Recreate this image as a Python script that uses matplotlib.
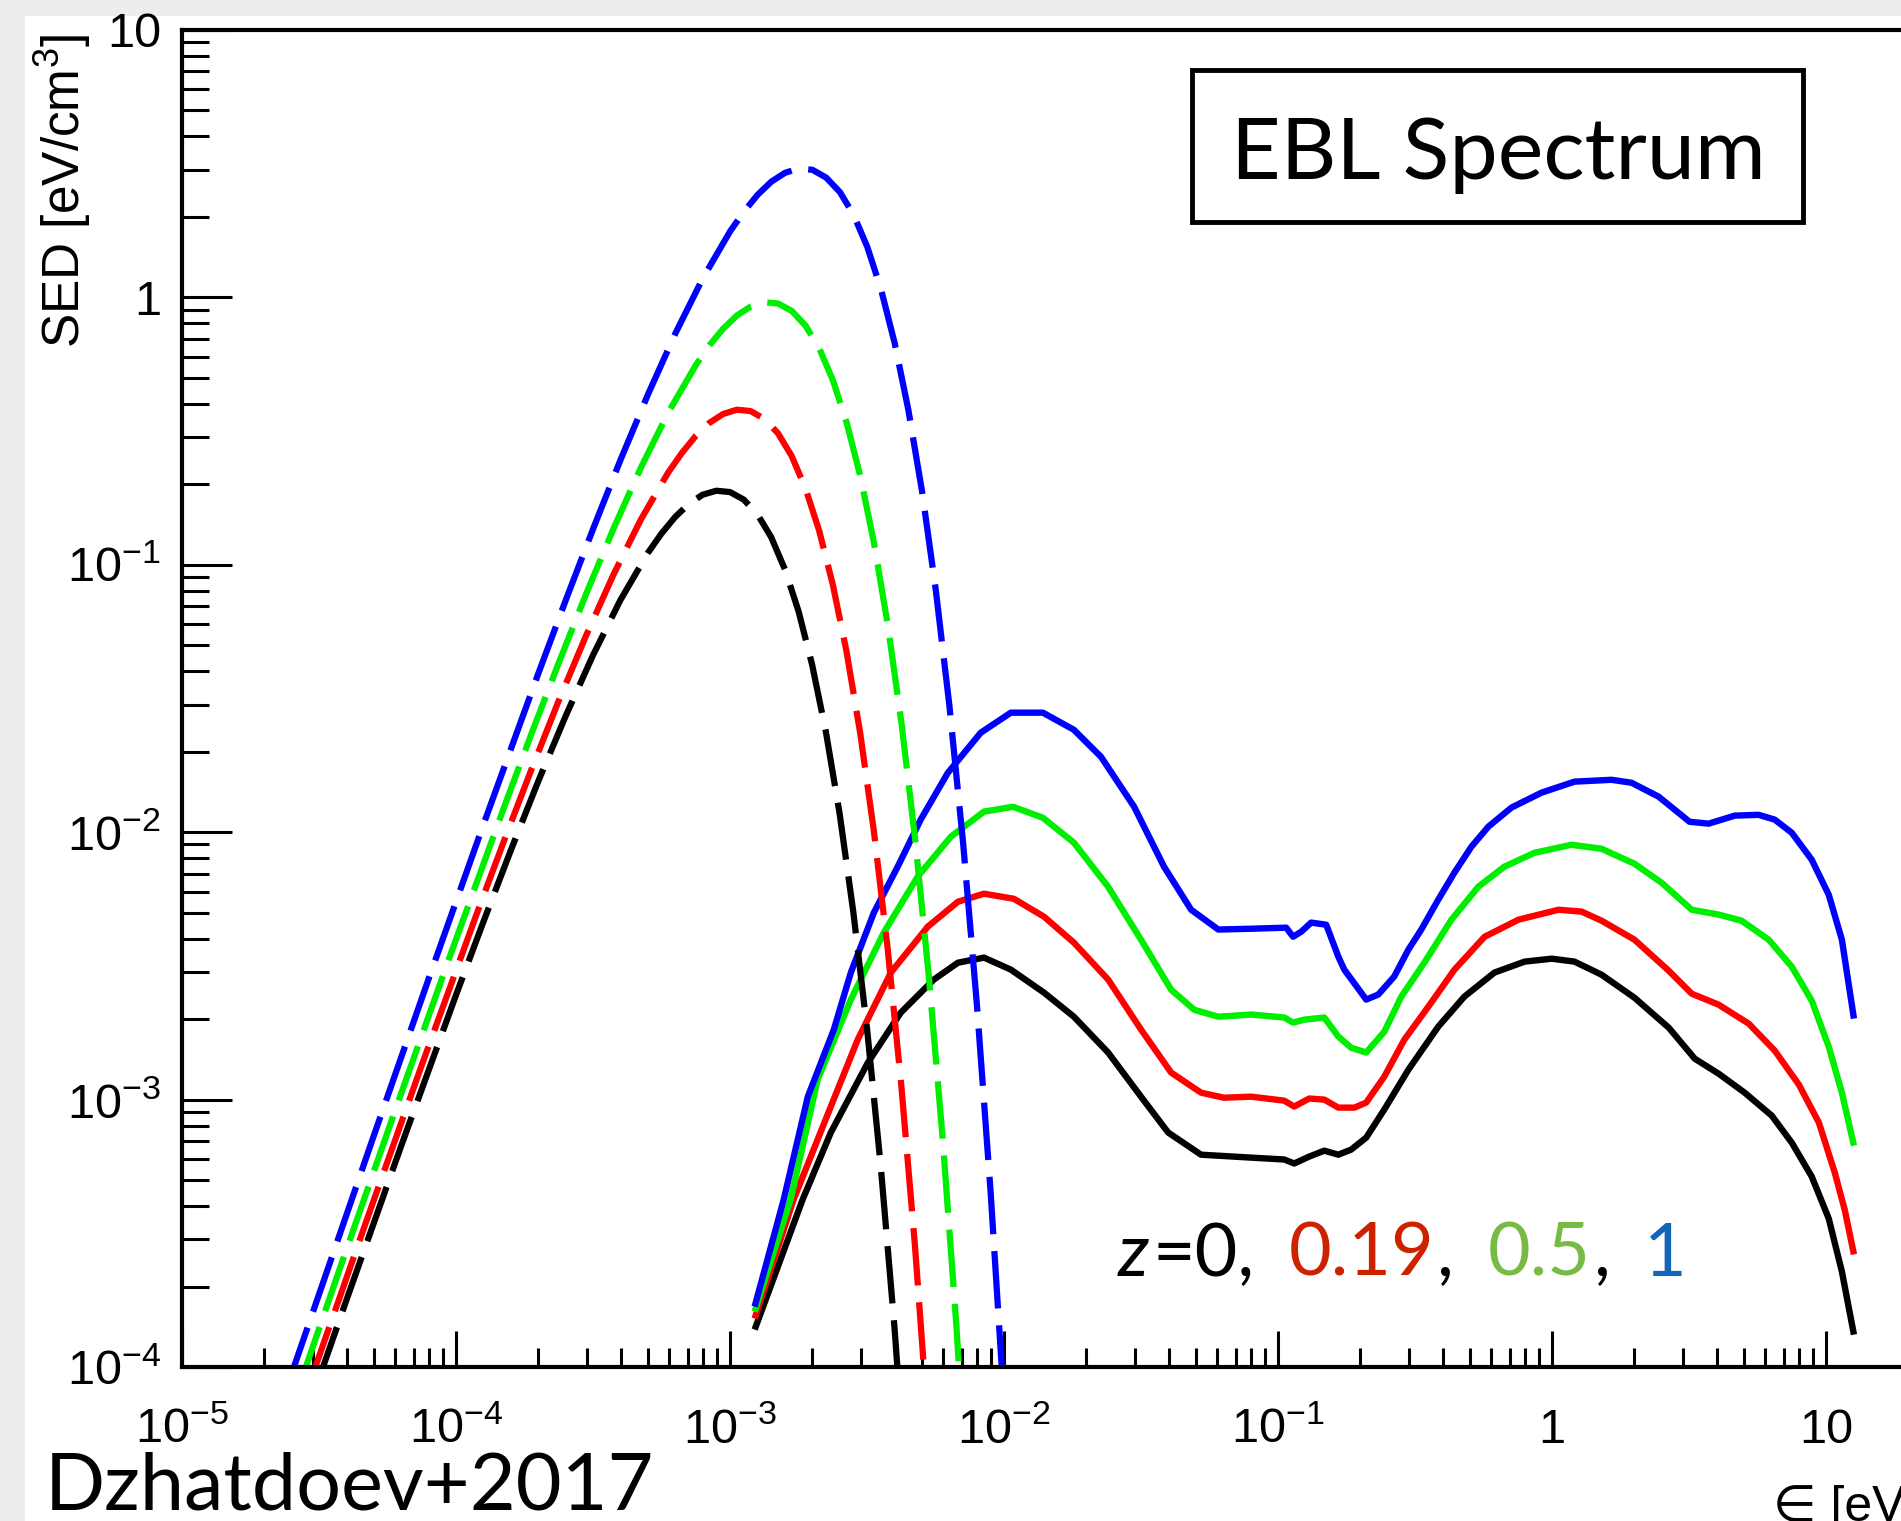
import numpy as np
import matplotlib.pyplot as plt
from matplotlib.patches import Rectangle
from matplotlib.ticker import LogLocator, NullFormatter

plt.rcParams['font.family'] = ['Liberation Sans', 'DejaVu Sans']
plt.rcParams['mathtext.fontset'] = 'custom'
plt.rcParams['mathtext.rm'] = 'Liberation Sans'
plt.rcParams['mathtext.it'] = 'Liberation Sans:italic'
plt.rcParams['mathtext.bf'] = 'Liberation Sans:bold'

# CMB (dashed) curves: log10 energy [eV] and log10 SED [eV/cm^3]
cmb_logE_z0 = [-5.0, -4.6, -4.4, -4.2, -4.0, -3.9, -3.8, -3.7, -3.6, -3.5, -3.4, -3.3, -3.25, -3.2, -3.15,
               -3.1, -3.05, -3.0, -2.95, -2.9, -2.85, -2.8, -2.75, -2.7, -2.65, -2.6, -2.55, -2.5, -2.45,
               -2.4, -2.35, -2.3]
cmb_logS_z0 = [-5.523, -4.336, -3.750, -3.173, -2.609, -2.335, -2.068, -1.810, -1.566, -1.338, -1.132,
               -0.956, -0.883, -0.821, -0.772, -0.738, -0.723, -0.728, -0.756, -0.811, -0.896, -1.016,
               -1.173, -1.375, -1.625, -1.930, -2.298, -2.733, -3.247, -3.848, -4.547, -5.355]
cmb_logE_z019 = [-4.925, -4.525, -4.325, -4.125, -3.925, -3.825, -3.725, -3.625, -3.525, -3.425, -3.325,
                 -3.225, -3.175, -3.125, -3.075, -3.025, -2.975, -2.925, -2.875, -2.825, -2.775, -2.725,
                 -2.675, -2.625, -2.575, -2.525, -2.475, -2.425, -2.375, -2.325, -2.275, -2.225]
cmb_logS_z019 = [-5.221, -4.034, -3.448, -2.871, -2.307, -2.033, -1.766, -1.508, -1.264, -1.036, -0.830,
                 -0.654, -0.581, -0.518, -0.469, -0.436, -0.420, -0.425, -0.454, -0.508, -0.593, -0.713,
                 -0.871, -1.073, -1.323, -1.628, -1.995, -2.431, -2.945, -3.546, -4.245, -5.053]
cmb_logE_z05 = [-4.824, -4.424, -4.224, -4.024, -3.824, -3.724, -3.624, -3.524, -3.424, -3.324, -3.224,
                -3.124, -3.074, -3.024, -2.974, -2.924, -2.874, -2.824, -2.774, -2.724, -2.674, -2.624,
                -2.574, -2.524, -2.474, -2.424, -2.374, -2.324, -2.274, -2.224, -2.174, -2.124]
cmb_logS_z05 = [-4.819, -3.632, -3.046, -2.469, -1.905, -1.630, -1.364, -1.106, -0.862, -0.634, -0.428,
                -0.252, -0.178, -0.116, -0.067, -0.034, -0.018, -0.023, -0.051, -0.106, -0.191, -0.311,
                -0.469, -0.670, -0.921, -1.226, -1.593, -2.029, -2.543, -3.144, -3.842, -4.651]
cmb_logE_z1 = [-4.699, -4.299, -4.099, -3.899, -3.699, -3.599, -3.499, -3.399, -3.299, -3.199, -3.099,
               -2.999, -2.949, -2.899, -2.849, -2.799, -2.749, -2.699, -2.649, -2.599, -2.549, -2.499,
               -2.449, -2.399, -2.349, -2.299, -2.249, -2.199, -2.149, -2.099, -2.049, -1.999]
cmb_logS_z1 = [-4.319, -3.132, -2.546, -1.969, -1.405, -1.131, -0.864, -0.606, -0.362, -0.134, 0.072,
               0.248, 0.321, 0.384, 0.433, 0.466, 0.482, 0.477, 0.448, 0.394, 0.309, 0.189,
               0.031, -0.171, -0.421, -0.726, -1.094, -1.529, -2.043, -2.644, -3.343, -4.151]

# EBL (solid) curves, log10 of energy and log10 of SED
ebl_logE_z0 = [-2.910, -2.735, -2.632, -2.497, -2.377, -2.256, -2.168, -2.073, -1.975, -1.854, -1.745,
               -1.620, -1.500, -1.401, -1.281, -1.098, -0.977, -0.941, -0.886, -0.831, -0.780, -0.733,
               -0.678, -0.612, -0.524, -0.415, -0.320, -0.210, -0.100, -0.001, 0.082, 0.181, 0.301,
               0.426, 0.521, 0.608, 0.703, 0.802, 0.875, 0.948, 1.010, 1.058, 1.102]
ebl_logS_z0 = [-3.860, -3.374, -3.123, -2.862, -2.675, -2.551, -2.488, -2.469, -2.514, -2.600, -2.690,
               -2.824, -2.989, -3.123, -3.206, -3.217, -3.224, -3.239, -3.213, -3.191, -3.206, -3.187,
               -3.142, -3.037, -2.888, -2.727, -2.615, -2.525, -2.484, -2.473, -2.484, -2.533, -2.619,
               -2.731, -2.847, -2.903, -2.974, -3.060, -3.161, -3.288, -3.445, -3.643, -3.879]
ebl_logE_z019 = [-2.910, -2.768, -2.632, -2.534, -2.413, -2.278, -2.168, -2.073, -1.964, -1.854, -1.745,
                 -1.620, -1.500, -1.390, -1.281, -1.197, -1.098, -0.977, -0.941, -0.886, -0.831, -0.780,
                 -0.721, -0.678, -0.612, -0.539, -0.451, -0.356, -0.246, -0.122, 0.024, 0.108, 0.181,
                 0.301, 0.426, 0.510, 0.608, 0.718, 0.813, 0.901, 0.974, 1.032, 1.069, 1.102]
ebl_logS_z019 = [-3.819, -3.374, -3.026, -2.776, -2.525, -2.353, -2.260, -2.230, -2.249, -2.316, -2.413,
                 -2.551, -2.738, -2.899, -2.974, -2.993, -2.989, -3.004, -3.026, -2.996, -3.000, -3.030,
                 -3.030, -3.011, -2.914, -2.776, -2.652, -2.514, -2.391, -2.327, -2.290, -2.297, -2.331,
                 -2.402, -2.518, -2.604, -2.645, -2.716, -2.817, -2.944, -3.086, -3.273, -3.415, -3.579]
ebl_logE_z05 = [-2.910, -2.779, -2.680, -2.559, -2.439, -2.315, -2.194, -2.073, -1.967, -1.858, -1.745,
                -1.620, -1.500, -1.390, -1.306, -1.218, -1.098, -0.977, -0.945, -0.904, -0.831, -0.780,
                -0.733, -0.678, -0.612, -0.550, -0.466, -0.367, -0.269, -0.174, -0.064, 0.071, 0.181,
                0.301, 0.400, 0.510, 0.608, 0.692, 0.791, 0.875, 0.948, 1.010, 1.058, 1.102]
ebl_logS_z05 = [-3.793, -3.374, -2.925, -2.626, -2.376, -2.166, -2.017, -1.923, -1.905, -1.946, -2.039,
                -2.204, -2.402, -2.589, -2.664, -2.690, -2.682, -2.693, -2.712, -2.701, -2.693, -2.764,
                -2.806, -2.824, -2.746, -2.615, -2.488, -2.327, -2.204, -2.129, -2.077, -2.047, -2.062,
                -2.118, -2.189, -2.290, -2.308, -2.331, -2.402, -2.503, -2.630, -2.802, -2.974, -3.172]
ebl_logE_z1 = [-2.910, -2.804, -2.716, -2.621, -2.559, -2.475, -2.388, -2.304, -2.205, -2.085, -1.975,
               -1.858, -1.745, -1.646, -1.525, -1.416, -1.317, -1.218, -1.098, -0.970, -0.945, -0.915,
               -0.879, -0.824, -0.780, -0.758, -0.678, -0.634, -0.576, -0.524, -0.477, -0.415, -0.356,
               -0.294, -0.232, -0.148, -0.038, 0.082, 0.217, 0.290, 0.389, 0.502, 0.572, 0.667, 0.754,
               0.813, 0.875, 0.948, 1.010, 1.058, 1.102]
ebl_logS_z1 = [-3.774, -3.374, -2.989, -2.738, -2.525, -2.301, -2.129, -1.953, -1.778, -1.628, -1.553,
               -1.553, -1.617, -1.718, -1.905, -2.129, -2.290, -2.364, -2.361, -2.357, -2.391, -2.372,
               -2.338, -2.346, -2.465, -2.514, -2.626, -2.607, -2.540, -2.439, -2.364, -2.252, -2.151,
               -2.054, -1.979, -1.908, -1.852, -1.811, -1.804, -1.815, -1.867, -1.961, -1.968, -1.938,
               -1.935, -1.953, -2.002, -2.103, -2.234, -2.402, -2.697]

line_colors = ['black', '#ff0000', '#00ee00', '#0000ff']
z_labels = ['0', '0.19', '0.5', '1']
z_colors = ['black', '#cc2200', '#77bb44', '#1166bb']

xticks = [1e-5, 1e-4, 1e-3, 1e-2, 1e-1, 1, 10]
xtick_labels = ['$10^{-5}$', '$10^{-4}$', '$10^{-3}$', '$10^{-2}$', '$10^{-1}$', '1', '10']
yticks = [1e-4, 1e-3, 1e-2, 1e-1, 1, 10]
ytick_labels = ['$10^{-4}$', '$10^{-3}$', '$10^{-2}$', '$10^{-1}$', '1', '10']

W, H = 1901, 1521
fig = plt.figure(figsize=(W / 100, H / 100), dpi=100, facecolor='#ebedee')
fig.add_artist(Rectangle((25 / W, 0), 1 - 25 / W, 1 - 16 / H, transform=fig.transFigure,
                         facecolor='white', edgecolor='none', zorder=-5))

ax = fig.add_axes([182 / W, 154 / H, (1963 - 182) / W, 1337 / H])
ax.set_facecolor('none')
ax.set_xscale('log')
ax.set_yscale('log')

cmb = [(cmb_logE_z0, cmb_logS_z0), (cmb_logE_z019, cmb_logS_z019),
       (cmb_logE_z05, cmb_logS_z05), (cmb_logE_z1, cmb_logS_z1)]
ebl = [(ebl_logE_z0, ebl_logS_z0), (ebl_logE_z019, ebl_logS_z019),
       (ebl_logE_z05, ebl_logS_z05), (ebl_logE_z1, ebl_logS_z1)]

for (le, ls), c in zip(ebl, line_colors):
    ax.plot(np.power(10.0, le), np.power(10.0, ls), color=c, lw=4.6,
            solid_joinstyle='round', solid_capstyle='butt')
for (le, ls), c in zip(cmb, line_colors):
    ax.plot(np.power(10.0, le), np.power(10.0, ls), color=c, lw=4.5,
            linestyle=(0, (9.2, 2.7)), dash_capstyle='butt', dash_joinstyle='round')

ax.set_xlim(1e-5, 10 ** 1.5)
ax.set_ylim(1e-4, 10)

ax.set_xticks(xticks, xtick_labels)
ax.set_yticks(yticks, ytick_labels)
ax.xaxis.set_minor_locator(LogLocator(base=10, subs=np.arange(2, 10), numticks=30))
ax.yaxis.set_minor_locator(LogLocator(base=10, subs=np.arange(2, 10), numticks=30))
ax.xaxis.set_minor_formatter(NullFormatter())
ax.yaxis.set_minor_formatter(NullFormatter())

ax.tick_params(which='both', direction='in', top=False, right=False, width=2.2, labelsize=35)
ax.tick_params(axis='x', which='major', length=26, pad=55)
ax.tick_params(axis='x', which='minor', length=14)
ax.tick_params(axis='y', which='major', length=36, pad=15)
ax.tick_params(axis='y', which='minor', length=19.5)
for lab in ax.get_xticklabels():
    lab.set_verticalalignment('baseline')

for side in ['left', 'bottom', 'top', 'right']:
    ax.spines[side].set_linewidth(3)

fig.text(63 / W, 1 - 34 / H, 'SED [eV/cm$^{3}$]', rotation=90, ha='center', va='top', fontsize=37)
fig.text(1773 / W, 1 - 1485 / H, '\u2208 [eV]', ha='left', va='top', fontsize=36,
         family=['Liberation Sans', 'DejaVu Sans'])

# title box
fig.add_artist(Rectangle((1192 / W, 1 - 222 / H), 611 / W, 152 / H, transform=fig.transFigure,
                         fill=False, edgecolor='black', lw=3.5))
fig.text(1498 / W, 1 - 179 / H, 'EBL Spectrum', ha='center', va='baseline', fontsize=62,
         family='Lato')

fig.text(45 / W, 1 - 1510 / H, 'Dzhatdoev+2017', ha='left', va='baseline', fontsize=57, family='Lato')

# redshift legend, coloured pieces laid out one after another
renderer = fig.canvas.get_renderer()
x = 1118 / W
y = 1 - 1276 / H
fs = 53
gap = fs * 0.42 / 72 * 100 / W
pieces = [('z', 'black', 'italic'), ('=0,', 'black', 'normal')]
for lab, col in zip(z_labels[1:], z_colors[1:]):
    pieces.append((lab, col, 'normal'))
    if lab != z_labels[-1]:
        pieces.append((',', 'black', 'normal'))
prev = None
for s, c, st in pieces:
    if prev in (',', '=0,'):
        x += gap
    t = fig.text(x, y, s, color=c, style=st, fontsize=fs, family='Lato', ha='left', va='baseline')
    bb = t.get_window_extent(renderer)
    x += bb.width / W + 3 / W
    prev = s

fig.savefig('out.png', dpi=100, facecolor=fig.get_facecolor())
